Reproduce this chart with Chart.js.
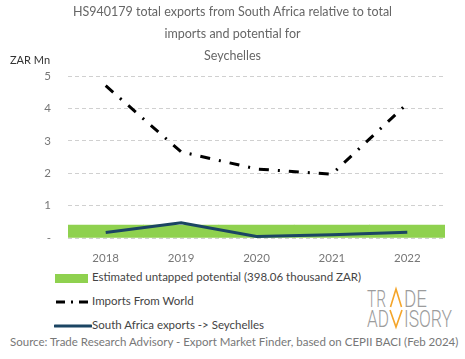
<!DOCTYPE html>
<html>
<head>
<meta charset="utf-8">
<script src="https://cdn.jsdelivr.net/npm/chart.js@4.4.1/dist/chart.umd.min.js"></script>
<style>
  html, body { margin: 0; padding: 0; background: #fff; }
  #wrap { position: relative; width: 465px; height: 359px; overflow: hidden; font-family: Lato, "Open Sans", sans-serif; }
  #cwrap { position: absolute; left: 0; top: 0; width: 465px; height: 270px; }
  .title { position: absolute; left: 0; width: 465px; text-align: center; color: #666; font-size: 12.5px; line-height: 16px; }
  .abs { position: absolute; white-space: nowrap; }
  .leg { color: #444; font-size: 11.5px; line-height: 14px; }
  #src { left: 10px; top: 335px; color: #777; font-size: 11.5px; line-height: 14px; }
  #logo { position: absolute; left: 360px; top: 285px; width: 100px; height: 46px; }
</style>
</head>
<body>
<div id="wrap">
  <div id="cwrap"><canvas id="c" width="465" height="270"></canvas></div>
  <div class="title" style="top:4px">HS940179 total exports from South Africa relative to total</div>
  <div class="title" style="top:26px">imports and potential for</div>
  <div class="title" style="top:48px">Seychelles</div>
  <div class="abs" style="left:10px; top:53px; color:#333; font-size:11px; line-height:14px;">ZAR Mn</div>

  <div class="abs" style="left:55px; top:274px; width:33px; height:9px; background:#8fd14f;"></div>
  <div class="abs leg" style="left:92px; top:270px;">Estimated untapped potential (398.06 thousand ZAR)</div>

  <svg class="abs" style="left:54px; top:297px;" width="38" height="10">
    <line x1="2" y1="5" x2="37" y2="5" stroke="#000" stroke-width="3" stroke-dasharray="9,6,2,6" stroke-linecap="butt"/>
  </svg>
  <div class="abs leg" style="left:92px; top:294px;">Imports From World</div>

  <svg class="abs" style="left:54px; top:321px;" width="38" height="10">
    <line x1="1" y1="5" x2="37" y2="5" stroke="#1b4563" stroke-width="3" stroke-linecap="round"/>
  </svg>
  <div class="abs leg" style="left:92px; top:318px;">South Africa exports -&gt; Seychelles</div>

  <div class="abs" id="src">Source: Trade Research Advisory - Export Market Finder, based on CEPII BACI (Feb 2024)</div>

  <svg id="logo" viewBox="0 0 100 46">
    <g font-family="Roboto, sans-serif" font-weight="300" font-size="24" fill="#9c9c9c">
      <text x="7" y="22" textLength="19" lengthAdjust="spacingAndGlyphs">TR</text>
      <text x="44" y="22" textLength="23" lengthAdjust="spacingAndGlyphs">DE</text>
      <text x="7" y="42" textLength="22" lengthAdjust="spacingAndGlyphs">AD</text>
      <text x="44" y="42" textLength="48" lengthAdjust="spacingAndGlyphs">ISORY</text>
    </g>
    <polyline points="30.5,22 36,4 41.5,22" fill="none" stroke="#f4a52a" stroke-width="1.6"/>
    <polyline points="30,25 36,42 42,25" fill="none" stroke="#f4a52a" stroke-width="1.6"/>
  </svg>
</div>
<script>
const categories = ['2018', '2019', '2020', '2021', '2022'];
const untappedPotential = [0.398, 0.398, 0.398, 0.398, 0.398];
const importsFromWorld = [4.70, 2.66, 2.13, 1.97, 4.15];
const saExports = [0.17, 0.47, 0.05, 0.10, 0.18];
const yTicks = [0, 1, 2, 3, 4, 5];

new Chart(document.getElementById('c'), {
  data: {
    labels: categories,
    datasets: [
      {
        type: 'line',
        label: 'South Africa exports -> Seychelles',
        data: saExports,
        borderColor: '#1b4563',
        borderWidth: 3,
        pointRadius: 0,
        tension: 0,
        order: 1
      },
      {
        type: 'line',
        label: 'Imports From World',
        data: importsFromWorld,
        borderColor: '#000',
        borderWidth: 3,
        borderDash: [10, 9, 2, 9],
        pointRadius: 0,
        tension: 0,
        order: 2
      },
      {
        type: 'bar',
        label: 'Estimated untapped potential (398.06 thousand ZAR)',
        data: untappedPotential,
        backgroundColor: '#8fd14f',
        borderWidth: 0,
        barPercentage: 1,
        categoryPercentage: 1,
        order: 3
      }
    ]
  },
  options: {
    responsive: false,
    animation: false,
    devicePixelRatio: 1,
    layout: { padding: { top: 76, right: 20, bottom: 2, left: 0 } },
    plugins: { legend: { display: false }, title: { display: false }, tooltip: { enabled: false } },
    scales: {
      x: {
        grid: { display: false, drawTicks: false },
        border: { display: false },
        ticks: { color: '#777', font: { family: 'Lato, sans-serif', size: 11.5 }, padding: 13 },
        afterFit: (s) => { s.height = 30; }
      },
      y: {
        min: 0, max: 5,
        afterBuildTicks: (s) => { s.ticks = yTicks.map(v => ({ value: v })); },
        grid: { color: '#d0d0d0', lineWidth: 1, drawTicks: false },
        border: { display: false, dash: [4, 3] },
        ticks: {
          color: '#777', font: { family: 'Lato, sans-serif', size: 11.5 }, padding: 17,
          callback: (v) => v === 0 ? '-' : String(v)
        },
        afterFit: (s) => { s.width = 68; }
      }
    }
  }
});
</script>
</body>
</html>
